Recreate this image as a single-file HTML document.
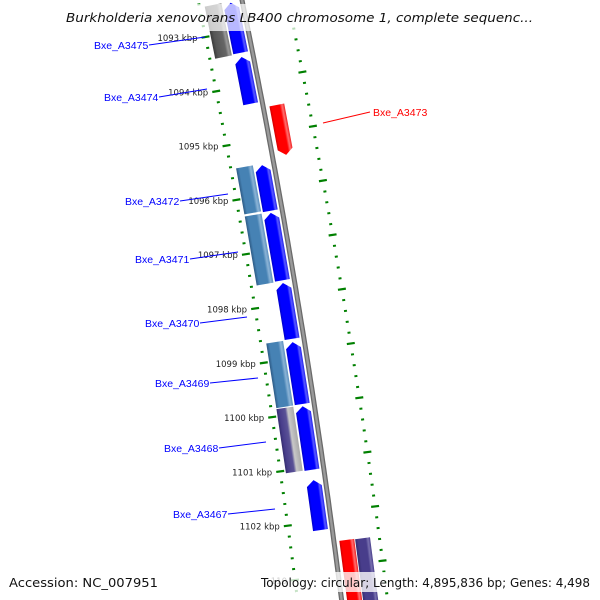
<!DOCTYPE html>
<html><head><meta charset="utf-8"><style>
html,body{margin:0;padding:0;background:#fff;width:600px;height:600px;overflow:hidden;}
svg{display:block;font-family:"Liberation Sans","DejaVu Sans",sans-serif;overflow:hidden;}
</style></head><body>
<svg id="map" width="600" height="600" viewBox="0 0 600 600" xmlns="http://www.w3.org/2000/svg">
<defs>
<clipPath id="frame"><rect x="0" y="0" width="600" height="600"/></clipPath>
<linearGradient id="gBlue" x1="0" x2="1" y1="0" y2="0"><stop offset="0" stop-color="#0000c8"/><stop offset="0.15" stop-color="#0000ff"/><stop offset="0.72" stop-color="#0000ff"/><stop offset="0.85" stop-color="#5a5aff"/><stop offset="1" stop-color="#2020f0"/></linearGradient>
<linearGradient id="gSteel" x1="0" x2="1" y1="0" y2="0"><stop offset="0" stop-color="#2d5a85"/><stop offset="0.18" stop-color="#4682b4"/><stop offset="0.68" stop-color="#4682b4"/><stop offset="0.84" stop-color="#8cb4d6"/><stop offset="1" stop-color="#5b8fbf"/></linearGradient>
<linearGradient id="gRed" x1="0" x2="1" y1="0" y2="0"><stop offset="0" stop-color="#d00000"/><stop offset="0.15" stop-color="#ff0000"/><stop offset="0.68" stop-color="#ff0000"/><stop offset="0.84" stop-color="#ff7070"/><stop offset="1" stop-color="#f02020"/></linearGradient>
<linearGradient id="gGray" x1="0" x2="1" y1="0" y2="0"><stop offset="0" stop-color="#3a3a3a"/><stop offset="0.2" stop-color="#555"/><stop offset="0.7" stop-color="#666"/><stop offset="0.85" stop-color="#999"/><stop offset="1" stop-color="#777"/></linearGradient>
<linearGradient id="gPurple" x1="0" x2="1" y1="0" y2="0"><stop offset="0" stop-color="#342c6e"/><stop offset="0.15" stop-color="#483d8b"/><stop offset="0.5" stop-color="#5a5296"/><stop offset="0.65" stop-color="#c8c8c8"/><stop offset="1" stop-color="#a8a8a8"/></linearGradient>
<linearGradient id="gPurple2" x1="0" x2="1" y1="0" y2="0"><stop offset="0" stop-color="#342c6e"/><stop offset="0.2" stop-color="#483d8b"/><stop offset="0.7" stop-color="#483d8b"/><stop offset="0.85" stop-color="#7a72b0"/><stop offset="1" stop-color="#483d8b"/></linearGradient>
</defs>
<g clip-path="url(#frame)">
<g id="ticks"></g>
<g id="genes"></g>
<g id="labels"></g>
<g id="over"></g>
</g>
</svg>
<script>
// ---- data ----
var tickKbp = [1093, 1094, 1095, 1096, 1097, 1098, 1099, 1100, 1101, 1102, 1103];
var tickLabels = ["1093 kbp","1094 kbp","1095 kbp","1096 kbp","1097 kbp","1098 kbp","1099 kbp","1100 kbp","1101 kbp","1102 kbp","110"];
var geneStart = [1092.37, 1093.37, 1095.36, 1096.24, 1097.53, 1098.62, 1099.80, 1101.16, 1092.41, 1095.39, 1096.28, 1098.62, 1099.83, 1094.25, 1102.26, 1102.23];
var geneEnd   = [1093.29, 1094.23, 1096.20, 1097.48, 1098.56, 1099.76, 1100.97, 1102.08, 1093.37, 1096.24, 1097.55, 1099.81, 1101.01, 1095.17, 1103.40, 1103.40];
var geneStrand = [-1,-1,-1,-1,-1,-1,-1,-1, 0,0,0,0,0, 1, 0,0];
var geneTrack  = [-12,-12,-12,-12,-12,-12,-12,-12, -30,-30,-30,-30,-30, 14, 13, 29];
var geneFill = ["gBlue","gBlue","gBlue","gBlue","gBlue","gBlue","gBlue","gBlue","gGray","gSteel","gSteel","gSteel","gPurple","gRed","gRed","gPurple2"];
var labelNames = ["Bxe_A3475","Bxe_A3474","Bxe_A3472","Bxe_A3471","Bxe_A3470","Bxe_A3469","Bxe_A3468","Bxe_A3467","Bxe_A3473"];
var labelX = [94,104,125,135,145,155,164,173,373];
var labelY = [49,101,205,263,327,387,452,518,116];
var labelTo = [[205,37],[207,89],[228,194],[238,252],[247,317],[258,378],[266,442],[275,509],[323,123]];
var labelColor = ["#0000ff","#0000ff","#0000ff","#0000ff","#0000ff","#0000ff","#0000ff","#0000ff","#ff0000"];

// ---- axis functions ----
var NS = "http://www.w3.org/2000/svg";
var PX_PER_KBP = 54.3, Y0 = 37;
function kToY(k){ return Y0 + (k - 1093) * PX_PER_KBP; }
function bx(y){ return 242 + 0.205*y - 0.000065*y*y; }
function slope(y){ return 0.205 - 0.00013*y; }
function ang(y){ return Math.atan(slope(y)) * 180 / Math.PI; }
function mk(tag, attrs, parent){ var e=document.createElementNS(NS,tag); for(var k in attrs) e.setAttribute(k, attrs[k]); parent.appendChild(e); return e; }

var gT = document.getElementById("ticks"), gG = document.getElementById("genes"), gL = document.getElementById("labels"), gO = document.getElementById("over");

// backbone
var d = "";
for (var y=-10; y<=610; y+=10) d += (y===-10?"M":"L") + bx(y).toFixed(1) + "," + y + " ";
var bb1 = mk("path", {d:d, fill:"none", stroke:"#6a6a6a", "stroke-width":5}, gG);


var bb2 = mk("path", {d:d, fill:"none", stroke:"#9a9a9a", "stroke-width":2.4}, gG);



// ticks
function tickMark(y, off, long, name){
  var len = long ? 8 : 3, th = long ? 2.2 : 2;
  var x = bx(y) + off;
  var r = mk("rect", {x:(-len/2), y:(-th/2), width:len, height:th, fill:"#008000",
    transform:"translate("+x.toFixed(1)+","+y.toFixed(1)+") rotate("+(-ang(y)*0.9).toFixed(1)+")"}, gT);
  
  
}
var kmin = 1092.2, kmax = 1103.6;
for (var i=0; i<=Math.round((kmax-kmin)*5); i++){
  var k = Math.round((kmin + i*0.2)*10)/10;
  var isMajor = Math.abs(k - Math.round(k)) < 0.01;
  tickMark(kToY(k), -44, isMajor, isMajor ? 'major-tick' : 'minor-tick');
  tickMark(kToY(k) + 0.645*PX_PER_KBP, 46, isMajor, isMajor ? 'outer-major-tick' : 'outer-minor-tick');
}
// kbp labels
for (var i=0; i<tickKbp.length; i++){
  var y = kToY(tickKbp[i]);
  var t = mk("text", {x:(bx(y)-52).toFixed(1), y:(y+4).toFixed(1), "text-anchor":"end", "font-size":"8.5", fill:"#222", "font-family":"DejaVu Sans, sans-serif"}, gT);
  t.textContent = tickLabels[i];
  
  
}

// genes
for (var i=0; i<geneStart.length; i++){
  var y1 = kToY(geneStart[i]), y2 = kToY(geneEnd[i]);
  var ym = (y1+y2)/2, s = slope(ym);
  var L = (y2-y1) * Math.sqrt(1+s*s);
  var w = geneTrack[i] < -20 ? 17 : 15;
  var cx = bx(ym) + geneTrack[i];
  var g = mk("g", {transform:"translate("+cx.toFixed(1)+","+ym.toFixed(1)+") rotate("+(-ang(ym)).toFixed(2)+")"}, gG);
  
  
  var h = 6, a=-L/2, b=L/2, l=-w/2, r=w/2, pts;
  if (geneStrand[i] === -1) pts = [[l,b],[l,a+h],[0,a],[r,a+h],[r,b]];
  else if (geneStrand[i] === 1) pts = [[l,a],[r,a],[r,b-h],[0,b],[l,b-h]];
  else pts = [[l,a],[r,a],[r,b],[l,b]];
  var p = mk("polygon", {points: pts.map(function(q){return q[0].toFixed(1)+","+q[1].toFixed(1);}).join(" "), fill:"url(#"+geneFill[i]+")"}, g);
  
  
}

// labels
for (var i=0; i<labelNames.length; i++){
  var right = labelColor[i] === "#ff0000";
  var t = mk("text", {x:labelX[i], y:labelY[i], "font-size":"10.5", fill:labelColor[i]}, gL);
  t.textContent = labelNames[i];
  
  
  var sx = right ? labelX[i]-3 : labelX[i] + 55, sy = labelY[i]-4;
  var ln = mk("line", {x1:sx, y1:sy, x2:labelTo[i][0], y2:labelTo[i][1], stroke:labelColor[i], "stroke-width":1}, gL);
  
  
}

// title & footer
var tb = mk("rect", {x:60, y:4, width:480, height:27, fill:"#fff", "fill-opacity":0.72}, gO);


var tt = mk("text", {x:66, y:22, "font-size":"12.5", "font-style":"italic", fill:"#111", "font-family":"DejaVu Sans, sans-serif", textLength:467, lengthAdjust:"spacingAndGlyphs"}, gO);
tt.textContent = "Burkholderia xenovorans LB400 chromosome 1, complete sequenc...";


var fb = mk("rect", {x:258, y:572, width:340, height:20, fill:"#fff", "fill-opacity":0.78}, gO);


var ac = mk("text", {x:9, y:587, "font-size":"12", fill:"#111", "font-family":"DejaVu Sans, sans-serif", textLength:149, lengthAdjust:"spacingAndGlyphs"}, gO);
ac.textContent = "Accession: NC_007951";


var tp = mk("text", {x:261, y:587, "font-size":"12", fill:"#111", "font-family":"DejaVu Sans, sans-serif", textLength:329, lengthAdjust:"spacingAndGlyphs"}, gO);
tp.textContent = "Topology: circular; Length: 4,895,836 bp; Genes: 4,498";


</script>
</body></html>
